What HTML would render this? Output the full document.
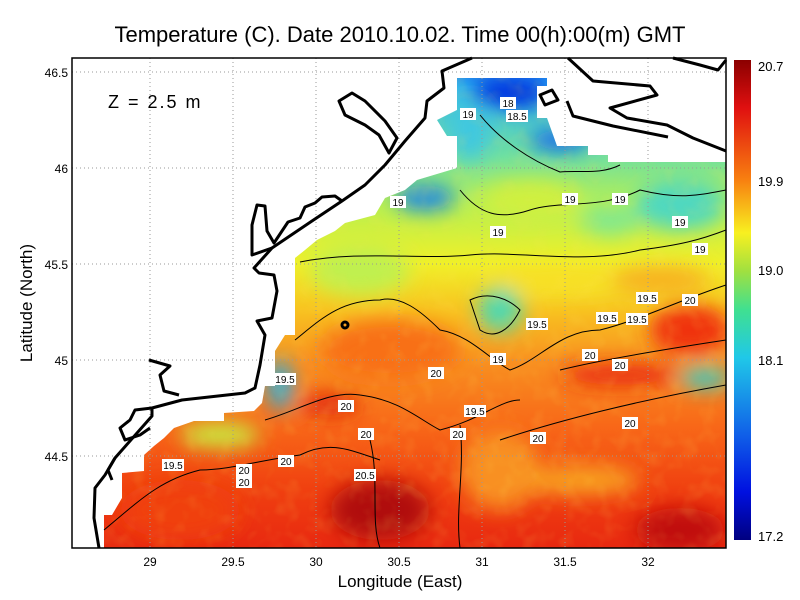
<!DOCTYPE html>
<html><head><meta charset="utf-8"><style>
body{margin:0;background:#fff;}
svg{display:block;font-family:"Liberation Sans",sans-serif;}
</style></head><body>
<svg width="800" height="600" viewBox="0 0 800 600">
<defs>
<linearGradient id="cb" x1="0" y1="0" x2="0" y2="1">
<stop offset="0" stop-color="#8b0000"/>
<stop offset="0.1" stop-color="#e01010"/>
<stop offset="0.25" stop-color="#f88010"/>
<stop offset="0.36" stop-color="#f8f020"/>
<stop offset="0.44" stop-color="#a0e040"/>
<stop offset="0.52" stop-color="#40e090"/>
<stop offset="0.62" stop-color="#20c8e8"/>
<stop offset="0.78" stop-color="#1060e8"/>
<stop offset="0.9" stop-color="#0010e0"/>
<stop offset="1" stop-color="#000080"/>
</linearGradient>
<linearGradient id="sea" gradientUnits="userSpaceOnUse" x1="0" y1="58" x2="0" y2="548">
<stop offset="0" stop-color="#1058f0"/>
<stop offset="0.06" stop-color="#30b8f0"/>
<stop offset="0.2" stop-color="#70e0a0"/>
<stop offset="0.3" stop-color="#b8f050"/>
<stop offset="0.42" stop-color="#f0f028"/>
<stop offset="0.52" stop-color="#f8c020"/>
<stop offset="0.62" stop-color="#f89020"/>
<stop offset="0.75" stop-color="#f86818"/>
<stop offset="0.88" stop-color="#f04010"/>
<stop offset="1" stop-color="#e82810"/>
</linearGradient>
<filter id="bl"><feGaussianBlur stdDeviation="10"/></filter>
<filter id="nz"><feTurbulence type="fractalNoise" baseFrequency="0.06" numOctaves="2" seed="3"/><feColorMatrix type="matrix" values="0 0 0 0 1  0 0 0 0 0.8  0 0 0 0 0.1  0 0 0 1.2 -0.55"/></filter>
<clipPath id="sc"><path d="M104,548 L104,515 L112,515 L122,498 L122,473 L144,471 L144,455 L154,446 L164,438 L174,428 L194,421 L224,421 L224,413 L254,411 L262,403 L265,386 L275,386 L275,351 L285,335 L295,335 L295,258 L305,250 L317,240 L335,231 L345,223 L375,215 L385,198 L405,190 L417,180 L457,168 L457,136 L447,136 L437,120 L457,110 L457,78 L547,78 L547,86 L537,86 L537,118 L547,118 L557,146 L588,146 L588,155 L608,155 L608,162 L726,162 L726,548 Z"/></clipPath>
</defs>
<g clip-path="url(#sc)">
<rect x="72" y="58" width="654" height="490" fill="url(#sea)"/>
<g filter="url(#bl)">
<ellipse cx="510" cy="92" rx="40" ry="16" fill="#0030e0"/>
<ellipse cx="560" cy="140" rx="30" ry="10" fill="#1060f0"/>
<ellipse cx="425" cy="198" rx="30" ry="12" fill="#1080f0"/>
<ellipse cx="470" cy="130" rx="20" ry="30" fill="#40c8e0"/>
<ellipse cx="530" cy="200" rx="50" ry="20" fill="#d0f040"/>
<ellipse cx="680" cy="205" rx="45" ry="25" fill="#50d8c0"/>
<ellipse cx="610" cy="220" rx="30" ry="15" fill="#80e890"/>
<ellipse cx="360" cy="270" rx="50" ry="25" fill="#c0f050"/>
<ellipse cx="500" cy="310" rx="22" ry="22" fill="#50d8b0"/>
<ellipse cx="560" cy="280" rx="70" ry="14" fill="#f8e028"/>
<ellipse cx="660" cy="280" rx="50" ry="14" fill="#f8b020"/>
<ellipse cx="690" cy="330" rx="40" ry="25" fill="#f03010"/>
<ellipse cx="280" cy="385" rx="12" ry="25" fill="#20b0e8"/>
<ellipse cx="220" cy="435" rx="40" ry="12" fill="#c8f040"/>
<ellipse cx="705" cy="378" rx="25" ry="10" fill="#30d0d0"/>
<ellipse cx="620" cy="375" rx="60" ry="10" fill="#e82010"/>
<ellipse cx="390" cy="350" rx="70" ry="30" fill="#f87018"/>
<ellipse cx="380" cy="510" rx="50" ry="30" fill="#b01008"/>
<ellipse cx="680" cy="530" rx="45" ry="22" fill="#c01008"/>
<ellipse cx="330" cy="405" rx="30" ry="10" fill="#e02010"/>
<ellipse cx="180" cy="510" rx="60" ry="30" fill="#f04010"/>
<ellipse cx="500" cy="470" rx="40" ry="40" fill="#f89020"/>
<ellipse cx="580" cy="480" rx="60" ry="15" fill="#f8a020"/>
</g>
<rect x="72" y="58" width="654" height="490" filter="url(#nz)" opacity="0.25"/>
</g>
<g stroke="#999" stroke-dasharray="1,3" stroke-width="1">
<line x1="150" y1="58" x2="150" y2="548"/><line x1="233" y1="58" x2="233" y2="548"/>
<line x1="316" y1="58" x2="316" y2="548"/><line x1="399" y1="58" x2="399" y2="548"/>
<line x1="482" y1="58" x2="482" y2="548"/><line x1="565" y1="58" x2="565" y2="548"/>
<line x1="648" y1="58" x2="648" y2="548"/>
<line x1="72" y1="72" x2="726" y2="72"/><line x1="72" y1="168" x2="726" y2="168"/>
<line x1="72" y1="264" x2="726" y2="264"/><line x1="72" y1="360" x2="726" y2="360"/>
<line x1="72" y1="456" x2="726" y2="456"/>
</g>
<g fill="none" stroke="#000" stroke-width="1">
<path d="M295,340 C320,320 340,300 380,300 C400,295 420,310 440,330 C470,335 490,360 510,370 C540,360 560,330 600,330 C640,320 680,300 726,285"/>
<path d="M265,420 C300,410 330,390 360,395 C400,400 420,420 440,430 C480,420 500,400 520,400"/>
<path d="M104,530 C140,500 160,480 200,470 C230,470 260,460 300,455 C330,440 350,450 380,460"/>
<path d="M460,190 C480,215 500,220 530,210 C560,200 600,210 640,190 C680,200 700,195 726,190"/>
<path d="M300,262 C360,250 420,260 470,255 C520,250 580,265 640,250 C680,245 700,240 726,230"/>
<path d="M480,115 C500,140 530,160 560,172 C580,170 600,175 620,165"/>
<path d="M500,440 C560,420 640,400 726,385"/>
<path d="M560,370 C600,360 660,350 726,340"/>
<path d="M470,300 C490,290 510,300 520,310 C510,330 495,340 480,330 Z"/>
<path d="M370,440 C380,480 370,520 380,548"/>
<path d="M460,425 C465,470 455,510 460,548"/>
</g>
<g fill="none" stroke="#000" stroke-width="3" stroke-linejoin="round">
<path d="M472,58 L442,71 L444,88 L427,101 L425,118 L405,141 L385,165 L365,185 L342,201 L312,221 L272,248 L254,268 L259,273 L274,275 L277,291 L272,318 L257,321 L265,335 L260,365 L255,388 L245,393 L182,400 L152,408 L152,416 L115,458 L105,475 L95,488 L94,518 L99,548"/>
<path d="M272,248 L252,255 L252,225 L257,205 L265,206 L267,231 L274,243 L288,222 L300,218 L305,207 L315,203 L322,197 L335,196 L342,201"/>
<path d="M339,101 L352,93 L365,101 L385,121 L397,138 L389,153 L379,135 L365,125 L345,115 Z"/>
<path d="M149,360 L170,366 L160,375 L164,391 L179,395"/>
<path d="M152,408 L135,410 L130,420 L120,428 L125,440 L140,435 L150,428"/>
<path d="M115,458 L108,470 L112,480"/>
<path d="M568,58 L593,81 L650,86 L657,95 L610,108 L627,118 L667,125 L693,138 L726,151"/>
<path d="M567,101 L573,116 L613,126 L668,137"/>
<path d="M673,58 L700,65 L718,70 L726,60"/>
<path d="M540,95 L552,90 L558,100 L545,105 Z"/>
<circle cx="345" cy="325" r="3"/>
</g>
<g font-size="10" text-anchor="middle">
<g fill="#fff"><rect x="500" y="97" width="16" height="12"/><rect x="506" y="110" width="22" height="12"/><rect x="460" y="108" width="16" height="12"/><rect x="390" y="196" width="16" height="12"/><rect x="490" y="226" width="16" height="12"/><rect x="562" y="193" width="16" height="12"/><rect x="612" y="193" width="16" height="12"/><rect x="672" y="216" width="16" height="12"/><rect x="692" y="243" width="16" height="12"/><rect x="636" y="292" width="22" height="12"/><rect x="682" y="294" width="16" height="12"/><rect x="526" y="318" width="22" height="12"/><rect x="596" y="312" width="22" height="12"/><rect x="626" y="313" width="22" height="12"/><rect x="490" y="353" width="16" height="12"/><rect x="582" y="349" width="16" height="12"/><rect x="612" y="359" width="16" height="12"/><rect x="428" y="367" width="16" height="12"/><rect x="274" y="373" width="22" height="12"/><rect x="338" y="400" width="16" height="12"/><rect x="464" y="405" width="22" height="12"/><rect x="622" y="417" width="16" height="12"/><rect x="450" y="428" width="16" height="12"/><rect x="530" y="432" width="16" height="12"/><rect x="358" y="428" width="16" height="12"/><rect x="278" y="455" width="16" height="12"/><rect x="162" y="459" width="22" height="12"/><rect x="236" y="464" width="16" height="12"/><rect x="236" y="476" width="16" height="12"/><rect x="354" y="469" width="22" height="12"/></g>
<text x="508" y="107">18</text><text x="517" y="120">18.5</text><text x="468" y="118">19</text><text x="398" y="206">19</text><text x="498" y="236">19</text><text x="570" y="203">19</text><text x="620" y="203">19</text><text x="680" y="226">19</text><text x="700" y="253">19</text><text x="647" y="302">19.5</text><text x="690" y="304">20</text><text x="537" y="328">19.5</text><text x="607" y="322">19.5</text><text x="637" y="323">19.5</text><text x="498" y="363">19</text><text x="590" y="359">20</text><text x="620" y="369">20</text><text x="436" y="377">20</text><text x="285" y="383">19.5</text><text x="346" y="410">20</text><text x="475" y="415">19.5</text><text x="630" y="427">20</text><text x="458" y="438">20</text><text x="538" y="442">20</text><text x="366" y="438">20</text><text x="286" y="465">20</text><text x="173" y="469">19.5</text><text x="244" y="474">20</text><text x="244" y="486">20</text><text x="365" y="479">20.5</text>
</g>
<rect x="72" y="58" width="654" height="490" fill="none" stroke="#000" stroke-width="1.5"/>
<text x="108" y="108" font-size="18" letter-spacing="2">Z = 2.5 m</text>
<text x="400" y="42" font-size="22" text-anchor="middle">Temperature (C). Date 2010.10.02. Time 00(h):00(m) GMT</text>
<g font-size="12" text-anchor="middle">
<text x="150" y="566">29</text><text x="233" y="566">29.5</text><text x="316" y="566">30</text><text x="399" y="566">30.5</text><text x="482" y="566">31</text><text x="565" y="566">31.5</text><text x="648" y="566">32</text>
</g>
<g font-size="12" text-anchor="end">
<text x="68" y="77">46.5</text><text x="68" y="173">46</text><text x="68" y="269">45.5</text><text x="68" y="365">45</text><text x="68" y="461">44.5</text>
</g>
<text x="400" y="587" font-size="17" text-anchor="middle">Longitude (East)</text>
<text transform="translate(32,303) rotate(-90)" font-size="17" text-anchor="middle">Latitude (North)</text>
<rect x="734" y="60" width="17" height="480" fill="url(#cb)"/>
<g font-size="13">
<text x="758" y="71">20.7</text><text x="758" y="186">19.9</text><text x="758" y="275">19.0</text><text x="758" y="365">18.1</text><text x="758" y="541">17.2</text>
</g>
</svg>
</body></html>
